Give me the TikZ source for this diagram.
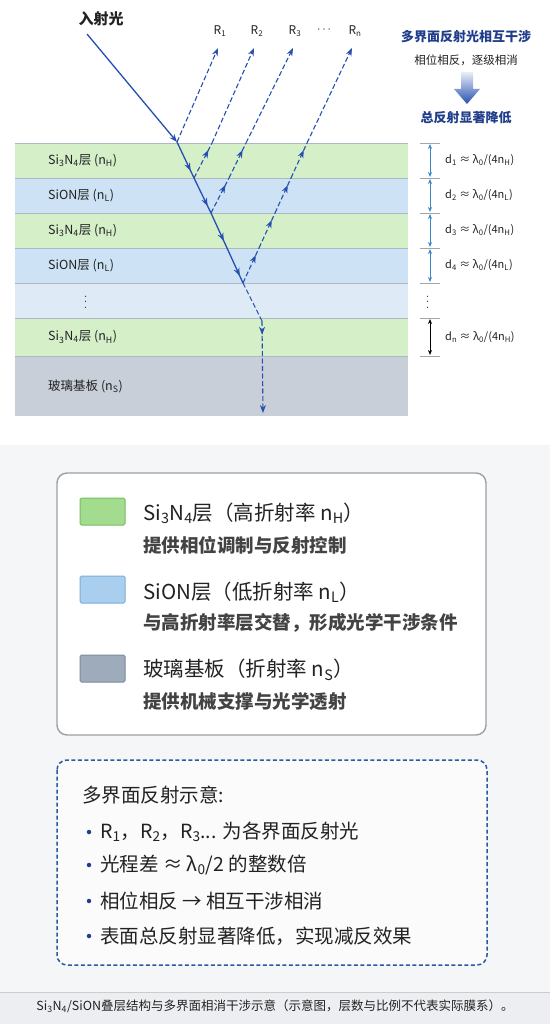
\documentclass[tikz,border=0pt]{standalone}
\usepackage{fontspec}
\setmainfont{Noto Sans CJK SC}
\usetikzlibrary{arrows.meta,decorations.markings}
\definecolor{rayc}{HTML}{2650B0}
\definecolor{gH}{HTML}{D5EFC9}
\definecolor{bL}{HTML}{CDE2F4}
\definecolor{bLL}{HTML}{DEEBF7}
\definecolor{glass}{HTML}{C8CFD9}
\definecolor{laye}{HTML}{AEB8C2}
\definecolor{dimc}{HTML}{3A86C8}
\definecolor{txt}{HTML}{222222}
\definecolor{navy}{HTML}{1F3D8A}
\definecolor{bgc}{HTML}{F4F6F8}
\definecolor{capc}{HTML}{ECEEF1}
\definecolor{swG}{HTML}{A3DC8E}
\definecolor{swGb}{HTML}{72BF5C}
\definecolor{swB}{HTML}{AACFEE}
\definecolor{swBb}{HTML}{7AAEDB}
\definecolor{swS}{HTML}{9EABBB}
\definecolor{swSb}{HTML}{7D8B9B}
\definecolor{dashb}{HTML}{2A5AA0}
\newcommand\sbs[1]{\textsubscript{#1}}
\tikzset{
  layerline/.style={draw=laye,line width=0.6pt},
  lbl/.style={anchor=west,inner sep=0pt,font=\fontsize{12.5}{14}\selectfont,text=txt},
  dimtxt/.style={anchor=west,inner sep=0pt,font=\fontsize{11}{13}\selectfont,text=txt},
  rlbl/.style={inner sep=0pt,font=\fontsize{12}{14}\selectfont,text=txt},
  rayline/.style={draw=rayc,line width=1.3pt},
  refl/.style={draw=rayc,line width=1.1pt,dash pattern=on 5pt off 2.5pt},
  tip/.style={-{Stealth[length=8pt,width=6pt]}},
  midarr/.style={postaction={decorate},decoration={markings,mark=at position #1 with {\arrow{Stealth[length=8pt,width=6pt]}}}},
  midarr/.default=0.8,
  tick/.style={draw=gray!70,line width=0.6pt},
  dimarr/.style={draw=dimc,line width=1pt,{Stealth[length=5pt,width=4pt]}-{Stealth[length=5pt,width=4pt]}},
  sw/.style={minimum width=45pt,minimum height=27pt,inner sep=0pt,line width=1pt,rounded corners=1.5pt},
  legt/.style={anchor=west,inner sep=0pt,font=\fontsize{20.5}{24}\selectfont,text=txt},
  legs/.style={anchor=west,inner sep=0pt,font=\bfseries\fontsize{18.5}{21}\selectfont,text=txt!85},
  bul/.style={anchor=west,inner sep=0pt,font=\fontsize{19.5}{23}\selectfont,text=txt},
  dot/.style={circle,fill=navy,inner sep=0pt,minimum size=4.5pt},
}
\begin{document}
\begin{tikzpicture}[x=1pt,y=-1pt]
\useasboundingbox (0,0) rectangle (550,1024);
\fill[white] (0,0) rectangle (550,1024);
\fill[bgc] (0,445) rectangle (550,992);
% layers
\fill[gH] (15,143) rectangle (408,178);
\fill[bL] (15,178) rectangle (408,213);
\fill[gH] (15,213) rectangle (408,248);
\fill[bL] (15,248) rectangle (408,283);
\fill[bLL] (15,283) rectangle (408,318);
\fill[gH] (15,318) rectangle (408,356);
\fill[glass] (15,356) rectangle (408,416);
\foreach \yy in {143,178,213,248,283,318,356}{\draw[layerline] (15,\yy) -- (408,\yy);}
\node[lbl] (l1) at (48,160.5) {Si\sbs{3}N\sbs{4}层 (n\sbs{H})};
\node[lbl] (l2) at (48,195.5) {SiON层 (n\sbs{L})};
\node[lbl] (l3) at (48,230.5) {Si\sbs{3}N\sbs{4}层 (n\sbs{H})};
\node[lbl] (l4) at (48,265.5) {SiON层 (n\sbs{L})};
\node[lbl,font=\fontsize{13}{13}\selectfont] (l5) at (83,301) {\rotatebox{90}{\kern-2pt$\cdots$}};
\node[lbl] (l6) at (48,337) {Si\sbs{3}N\sbs{4}层 (n\sbs{H})};
\node[lbl] (l7) at (48,386) {玻璃基板 (n\sbs{S})};
% dimension marks
\foreach \yy in {143,178,213,248,283,318,356}{\draw[tick] (420,\yy) -- (440,\yy);}
\coordinate (t1) at (430,143); \coordinate (t2) at (430,178); \coordinate (t3) at (430,213);
\coordinate (t4) at (430,248); \coordinate (t5) at (430,283); \coordinate (t6) at (430,318); \coordinate (t7) at (430,356);
\draw[dimarr] ([yshift=-1pt]t1) -- ([yshift=1pt]t2);
\draw[dimarr] ([yshift=-1pt]t2) -- ([yshift=1pt]t3);
\draw[dimarr] ([yshift=-1pt]t3) -- ([yshift=1pt]t4);
\draw[dimarr] ([yshift=-1pt]t4) -- ([yshift=1pt]t5);
\draw[dimarr,draw=black] ([yshift=-1pt]t6) -- ([yshift=1pt]t7);
\node[lbl,font=\fontsize{13}{13}\selectfont] (dd) at (425,301) {\rotatebox{90}{\kern-2pt$\cdots$}};
\node[dimtxt] (d1) at (445,160.5) {d\sbs{1} ≈ λ\sbs{0}/(4n\sbs{H})};
\node[dimtxt] (d2) at (445,195.5) {d\sbs{2} ≈ λ\sbs{0}/(4n\sbs{L})};
\node[dimtxt] (d3) at (445,230.5) {d\sbs{3} ≈ λ\sbs{0}/(4n\sbs{H})};
\node[dimtxt] (d4) at (445,265.5) {d\sbs{4} ≈ λ\sbs{0}/(4n\sbs{L})};
\node[dimtxt] (dn) at (445,337) {d\sbs{n} ≈ λ\sbs{0}/(4n\sbs{H})};
% incident & refracted
\node[inner sep=0pt,font=\bfseries\fontsize{15}{18}\selectfont,text=txt] (inc) at (101,19) {入射光};
\coordinate (S) at (87,34);
\coordinate (P0) at (177,142);
\coordinate (P1) at (194,178);
\coordinate (P2) at (211,213);
\coordinate (P3) at (227,248);
\coordinate (P4) at (243,283);
\coordinate (P5) at (262,321);
\coordinate (P6) at (263,413);
\draw[rayline,tip] (S) -- (P0);
\draw[rayline,midarr] (P0) -- (P1);
\draw[rayline,midarr] (P1) -- (P2);
\draw[rayline,midarr] (P2) -- (P3);
\draw[rayline,midarr] (P3) -- (P4);
\draw[refl] (P4) -- (P5);
\draw[refl,tip,midarr=0.15] (P5) -- (P6);
% reflected rays
\node[rlbl] (R1) at (220,31) {R\sbs{1}};
\node[rlbl] (R2) at (257,31) {R\sbs{2}};
\node[rlbl] (R3) at (295,31) {R\sbs{3}};
\node[rlbl] (Rd) at (324,30) {$\cdots$};
\node[rlbl] (Rn) at (355,31) {R\sbs{n}};
\coordinate (T1) at (218,48);
\coordinate (T2) at (254,48);
\coordinate (T3) at (293,48);
\coordinate (Tn) at (352,48);
\draw[refl,tip] (P0) -- (T1);
\coordinate (B2) at (212,143);
\draw[refl,midarr] (P1) -- (B2);
\draw[refl,tip] (B2) -- (T2);
\coordinate (C3) at (229,178);
\coordinate (B3) at (246,143);
\draw[refl,midarr] (P2) -- (C3);
\draw[refl,midarr] (C3) -- (B3);
\draw[refl,tip] (B3) -- (T3);
\coordinate (E4) at (259,248);
\coordinate (E3) at (275,213);
\coordinate (E2) at (291,178);
\coordinate (E1) at (307,143);
\draw[refl,midarr] (P4) -- (E4);
\draw[refl,midarr] (E4) -- (E3);
\draw[refl,midarr] (E3) -- (E2);
\draw[refl,midarr] (E2) -- (E1);
\draw[refl,tip] (E1) -- (Tn);
% right annotation
\node[inner sep=0pt,font=\bfseries\fontsize{13}{16}\selectfont,text=navy] (a1) at (466,37) {多界面反射光相互干涉};
\node[inner sep=0pt,font=\fontsize{11.5}{14}\selectfont,text=txt] (a2) at (466,60) {相位相反，逐级相消};
\shade[top color=rayc!10, bottom color=rayc] (461,72) -- (473,72) -- (473,89) -- (480,89) -- (467,104) -- (454,89) -- (461,89) -- cycle;
\node[inner sep=0pt,font=\bfseries\fontsize{13}{16}\selectfont,text=navy] (a3) at (466,118) {总反射显著降低};
% legend
\draw[draw=gray!75,line width=1.4pt,fill=white,rounded corners=10pt] (57,473) rectangle (486,735);
\node[sw,fill=swG,draw=swGb] (s1) at (102.5,511.5) {};
\node[sw,fill=swB,draw=swBb] (s2) at (102.5,589.5) {};
\node[sw,fill=swS,draw=swSb] (s3) at (102.5,668.5) {};
\node[legt] (g1) at (143,513) {Si\sbs{3}N\sbs{4}层（高折射率 n\sbs{H}）};
\node[legs] (g1s) at (143,545) {提供相位调制与反射控制};
\node[legt] (g2) at (143,592) {SiON层（低折射率 n\sbs{L}）};
\node[legs] (g2s) at (143,623) {与高折射率层交替，形成光学干涉条件};
\node[legt] (g3) at (143,670) {玻璃基板（折射率 n\sbs{S}）};
\node[legs] (g3s) at (143,702) {提供机械支撑与光学透射};
% dashed box
\draw[draw=dashb,line width=1.5pt,dash pattern=on 4pt off 2.5pt,fill=white!60!bgc,rounded corners=10pt] (57,760) rectangle (487,965);
\node[bul] (h) at (82,795) {多界面反射示意:};
\node[dot] (b1) at (89,832) {};
\node[dot] (b2) at (89,865) {};
\node[dot] (b3) at (89,901) {};
\node[dot] (b4) at (89,936) {};
\node[bul] (i1) at (100,832) {R\sbs{1}，R\sbs{2}，R\sbs{3}... 为各界面反射光};
\node[bul] (i2) at (100,865) {光程差 ≈ λ\sbs{0}/2 的整数倍};
\node[bul] (i3) at (100,901) {相位相反 → 相互干涉相消};
\node[bul] (i4) at (100,936) {表面总反射显著降低，实现减反效果};
% caption
\fill[capc] (0,992) rectangle (550,1024);
\draw[gray!40,line width=0.6pt] (0,992) -- (550,992);
\node[inner sep=0pt,font=\fontsize{12.5}{14}\selectfont,text=txt] (cap) at (275,1006) {Si\sbs{3}N\sbs{4}/SiON叠层结构与多界面相消干涉示意（示意图，层数与比例不代表实际膜系）。};
\end{tikzpicture}
\end{document}
